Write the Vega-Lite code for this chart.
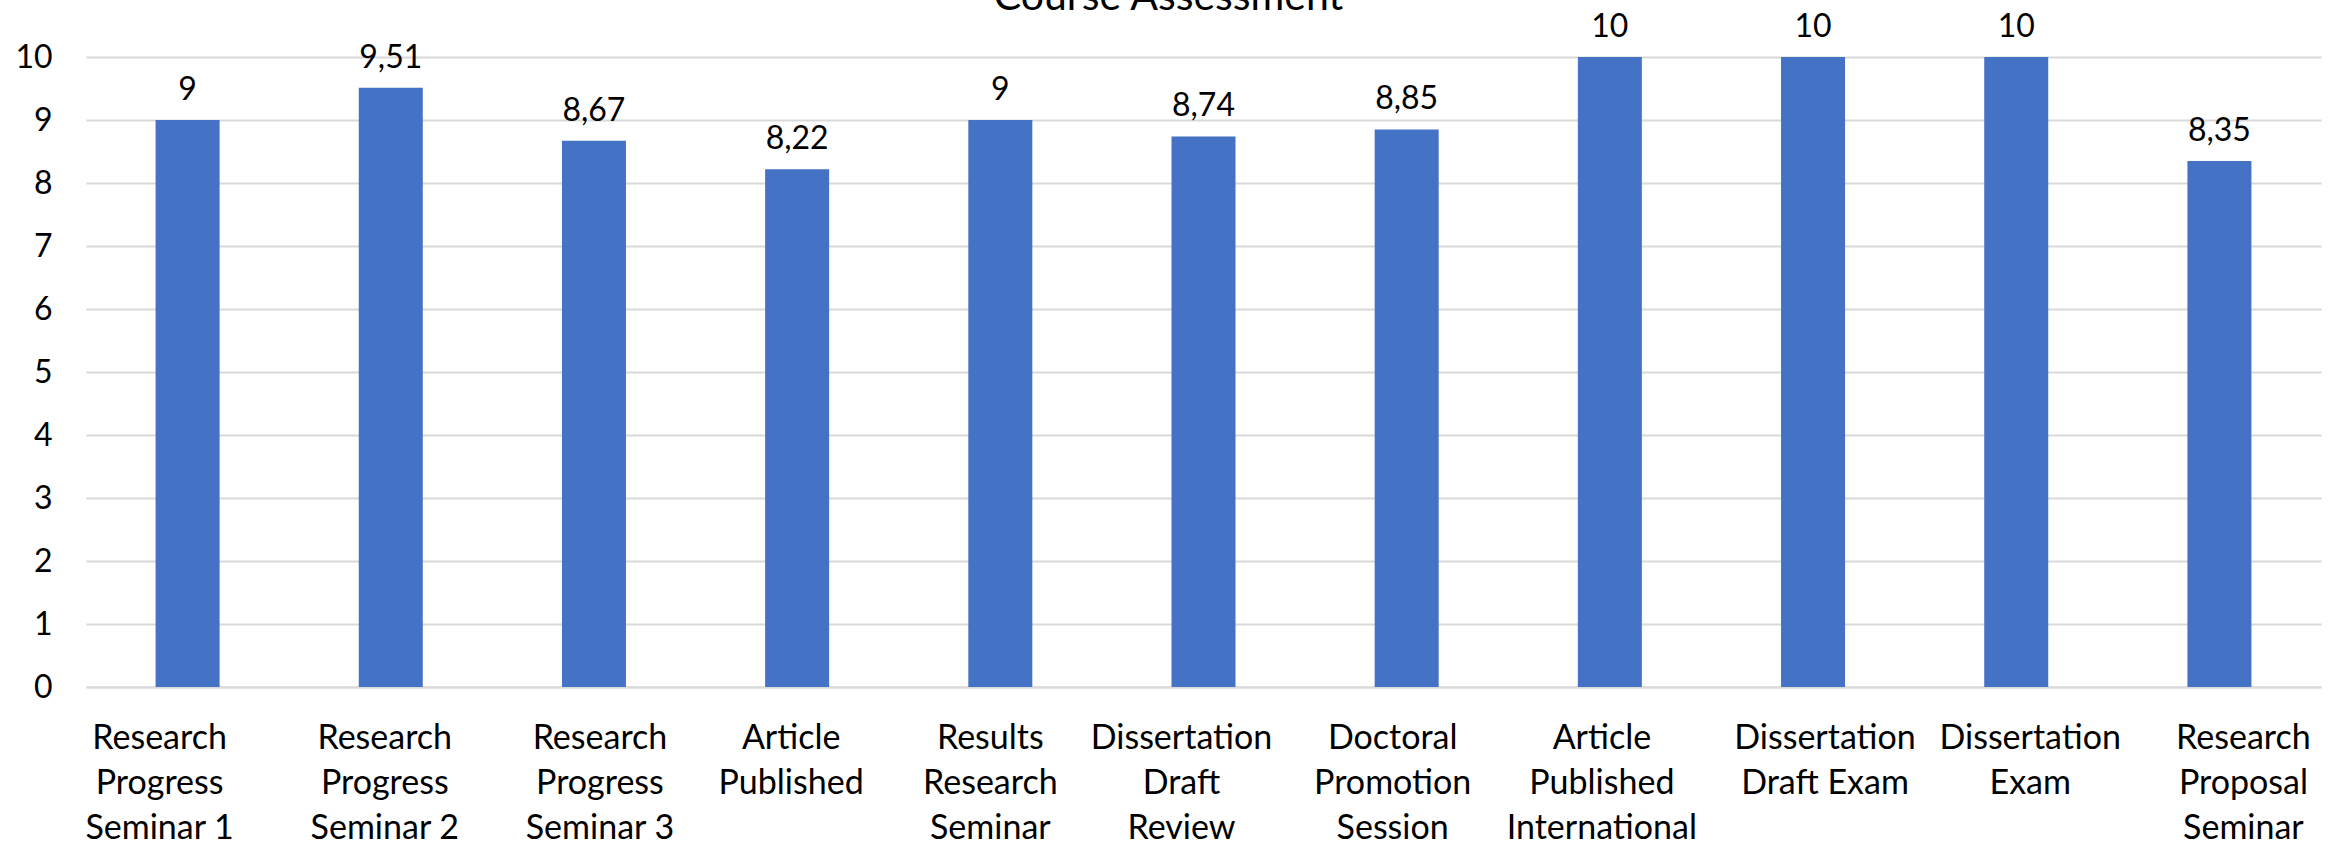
{
  "$schema": "https://vega.github.io/schema/vega-lite/v6.json",
  "autosize": {"type": "none"},
  "width": 2235,
  "height": 630,
  "padding": {"left": 86, "top": 57, "right": 18, "bottom": 164},
  "background": "white",
  "config": {
    "view": {"stroke": null},
    "locale": {"number": {"decimal": ",", "thousands": ".", "grouping": [3], "currency": ["", " €"]}},
    "font": "Lato"
  },
  "title": {
    "text": "Course Assessment",
    "font": "Lato",
    "fontSize": 41,
    "fontWeight": "normal",
    "color": "#000000",
    "anchor": "middle",
    "frame": "group",
    "baseline": "alphabetic",
    "offset": 0,
    "dy": 40,
    "dx": -35
  },
  "data": {
    "values": [
      {"course": "Research|Progress|Seminar 1", "score": 9},
      {"course": "Research|Progress|Seminar 2", "score": 9.51},
      {"course": "Research|Progress|Seminar 3", "score": 8.67},
      {"course": "Article|Published", "score": 8.22},
      {"course": "Results|Research|Seminar", "score": 9},
      {"course": "Dissertation|Draft|Review", "score": 8.74},
      {"course": "Doctoral|Promotion|Session", "score": 8.85},
      {"course": "Article|Published|International", "score": 10},
      {"course": "Dissertation|Draft Exam", "score": 10},
      {"course": "Dissertation|Exam", "score": 10},
      {"course": "Research|Proposal|Seminar", "score": 8.35}
    ]
  },
  "encoding": {
    "x": {
      "field": "course",
      "type": "nominal",
      "sort": null,
      "scale": {"paddingInner": 0.685, "paddingOuter": 0.3425},
      "axis": {
        "title": null,
        "labelAngle": 0,
        "labelExpr": "split(datum.label, '|')",
        "labelFont": "Lato",
        "labelFontSize": 34,
        "labelColor": "#000000",
        "labelLineHeight": 45,
        "labelBaseline": "top",
        "labelPadding": 34,
        "labelLimit": 400,
        "ticks": false,
        "domain": true,
        "domainColor": "#d9d9d9",
        "domainWidth": 2,
        "grid": false,
        "labelOffset": {
          "condition": [
            {"test": "datum.value === 'Research|Progress|Seminar 1'", "value": -28},
            {"test": "datum.value === 'Research|Progress|Seminar 2'", "value": -6},
            {"test": "datum.value === 'Research|Progress|Seminar 3'", "value": 6},
            {"test": "datum.value === 'Article|Published'", "value": -6},
            {"test": "datum.value === 'Results|Research|Seminar'", "value": -10},
            {"test": "datum.value === 'Dissertation|Draft|Review'", "value": -22},
            {"test": "datum.value === 'Doctoral|Promotion|Session'", "value": -14},
            {"test": "datum.value === 'Article|Published|International'", "value": -8},
            {"test": "datum.value === 'Dissertation|Draft Exam'", "value": 12},
            {"test": "datum.value === 'Dissertation|Exam'", "value": 14},
            {"test": "datum.value === 'Research|Proposal|Seminar'", "value": 24}
          ],
          "value": 0
        }
      }
    },
    "y": {
      "field": "score",
      "type": "quantitative",
      "scale": {"domain": [0, 10], "nice": false},
      "axis": {
        "title": null,
        "values": [0, 1, 2, 3, 4, 5, 6, 7, 8, 9, 10],
        "labelFont": "Lato",
        "labelFontSize": 32,
        "labelColor": "#000000",
        "labelPadding": 34,
        "ticks": false,
        "domain": false,
        "grid": true,
        "gridColor": "#d9d9d9",
        "gridWidth": 2
      }
    }
  },
  "layer": [
    {"mark": {"type": "bar", "color": "#4472C4"}},
    {
      "mark": {"type": "text", "baseline": "alphabetic", "dy": -20, "font": "Lato", "fontSize": 32, "color": "#000000"},
      "encoding": {"text": {"field": "score", "type": "quantitative", "format": ".3~r"}}
    }
  ]
}
